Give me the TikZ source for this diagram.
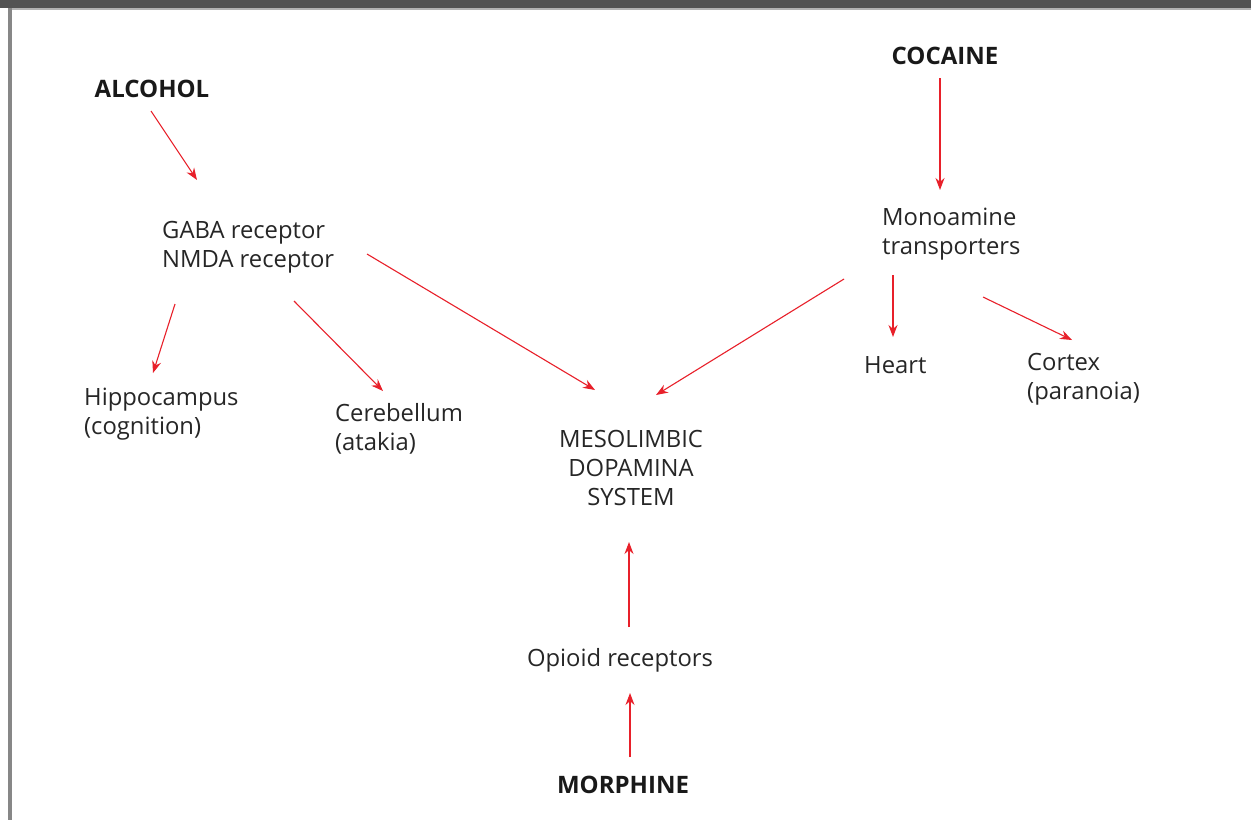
\documentclass[tikz,border=0pt]{standalone}
\usepackage{fontspec}
\setmainfont{Open Sans}
\usetikzlibrary{arrows.meta}
\begin{document}
\begin{tikzpicture}[x=1pt,y=-1pt,
  lbl/.style={font=\fontsize{23.8}{29}\selectfont, text=black!85, inner sep=0pt, align=left},
  ctr/.style={lbl, align=center},
  drug/.style={font=\fontsize{24}{29}\selectfont\bfseries, text=black!90, inner sep=0pt},
  conn/.style={draw={rgb,255:red,232;green,32;blue,42}, line width=1.1pt, -{Stealth[length=12pt,width=9pt]}}]
\useasboundingbox (0,0) rectangle (1251,820);
\fill[white] (0,0) rectangle (1251,820);
\fill[black!68] (0,0) rectangle (1251,8);
\fill[black!30] (12,8) rectangle (1251,10);
\fill[black!47] (8,8) rectangle (12,820);
% nodes
\node[drug] (alcohol) at (152,89) {ALCOHOL};
\node[drug] (cocaine) at (945,56) {COCAINE};
\node[drug] (morphine) at (623,785) {MORPHINE};
\node[lbl, anchor=west] (gaba) at (162,247) {GABA receptor\\NMDA receptor};
\node[lbl, anchor=west] (mono) at (882,234) {Monoamine\\transporters};
\node[lbl, anchor=west] (hippo) at (84,414) {Hippocampus\\(cognition)};
\node[lbl, anchor=west] (cereb) at (335,429) {Cerebellum\\(atakia)};
\node[lbl, anchor=west] (heart) at (864,365) {Heart};
\node[lbl, anchor=west] (cortex) at (1027,379) {Cortex\\(paranoia)};
\node[ctr] (meso) at (631,468) {MESOLIMBIC\\DOPAMINA\\SYSTEM};
\node[lbl] (opioid) at (620,660) {Opioid receptors};
% connector endpoints
\coordinate (c1s) at (151,111); \coordinate (c1e) at (197,180);
\coordinate (c2s) at (175,304); \coordinate (c2e) at (153,373);
\coordinate (c3s) at (294,301); \coordinate (c3e) at (383,391);
\coordinate (c4s) at (367,254); \coordinate (c4e) at (595,390);
\coordinate (c5s) at (844,279); \coordinate (c5e) at (656,395);
\coordinate (c6s) at (940,78);  \coordinate (c6e) at (940,190);
\coordinate (c7s) at (893,275); \coordinate (c7e) at (893,337);
\coordinate (c8s) at (983,297); \coordinate (c8e) at (1072,340);
\coordinate (c9s) at (629,627); \coordinate (c9e) at (629,542);
\coordinate (c10s) at (630,757); \coordinate (c10e) at (630,693);
\draw[conn] (c1s) -- (c1e);
\draw[conn] (c2s) -- (c2e);
\draw[conn] (c3s) -- (c3e);
\draw[conn] (c4s) -- (c4e);
\draw[conn] (c5s) -- (c5e);
\draw[conn] (c6s) -- (c6e);
\draw[conn] (c7s) -- (c7e);
\draw[conn] (c8s) -- (c8e);
\draw[conn] (c9s) -- (c9e);
\draw[conn] (c10s) -- (c10e);
\end{tikzpicture}
\end{document}
